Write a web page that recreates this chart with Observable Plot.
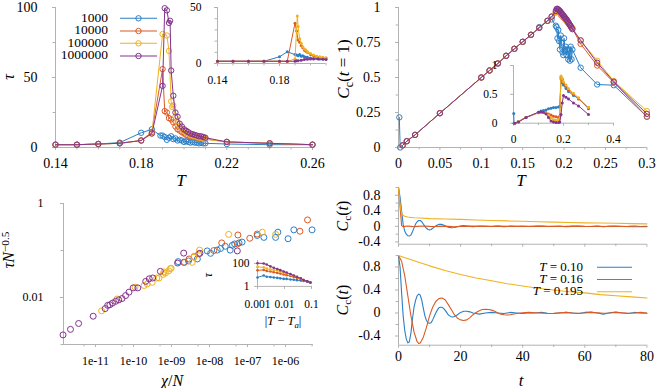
<!DOCTYPE html>
<html><head><meta charset="utf-8">
<script src="https://cdn.jsdelivr.net/npm/d3@7"></script>
<script src="https://cdn.jsdelivr.net/npm/@observablehq/plot@0.6"></script>
<style>
body{margin:0;background:#fff;}
#root{position:relative;width:656px;height:388px;overflow:hidden;background:#fff;font-family:"Liberation Serif","DejaVu Serif",serif;}
.lbl{position:absolute;font-family:"Liberation Serif","DejaVu Serif",serif;white-space:nowrap;line-height:1;color:#000;}
.leg{line-height:0.8;}
.c{transform:translate(-50%,-50%);}
.r{transform:translate(-50%,-50%) rotate(-90deg);}
.sb{font-size:70%;position:relative;top:0.3em;}
.sp{font-size:70%;position:relative;top:-0.45em;}
svg text{font-family:"Liberation Serif","DejaVu Serif",serif;}
</style></head><body><div id="root"></div>
<script>
// ---------------- data ----------------
const seriesNames = ["1000","10000","100000","1000000"];
const seriesColors = ["#2a7fc6","#dc5a24","#efb21f","#84338f"];

// Panel A: tau vs T (main)
const tauMain_1000 = [[0.14,2],[0.15,2],[0.16,2.5],[0.17,3.5],[0.18,10.5],[0.185,13],[0.189,8.5],[0.19,8.5],[0.191,7.5],[0.192,5.5],[0.193,7],[0.194,8],[0.195,6],[0.196,6.5],[0.197,5],[0.198,5.5],[0.199,5],[0.2,4],[0.201,4.5],[0.202,4],[0.203,3.5],[0.204,4],[0.205,3.5],[0.206,3.5],[0.207,3],[0.208,3.5],[0.209,3],[0.21,3],[0.22,2.5],[0.24,2],[0.26,2]];
const tauMain_10000 = [[0.14,2],[0.15,2],[0.16,2.5],[0.17,3],[0.18,5],[0.185,11],[0.19,56],[0.191,26],[0.192,25],[0.193,21],[0.194,20],[0.195,18],[0.196,15],[0.197,13],[0.198,12],[0.199,11],[0.2,10],[0.201,9],[0.202,8.5],[0.203,8],[0.204,8],[0.205,7.5],[0.206,7],[0.207,7],[0.208,6.5],[0.209,6.5],[0.21,6],[0.22,4],[0.24,3],[0.26,2]];
const tauMain_100000 = [[0.14,2],[0.15,2],[0.16,2.5],[0.17,3],[0.18,5],[0.185,10],[0.19,81],[0.192,80],[0.193,69],[0.194,33],[0.1945,29],[0.195,30],[0.196,22],[0.197,18],[0.198,15],[0.199,13],[0.2,11.5],[0.201,10.5],[0.202,10],[0.203,9],[0.204,8.5],[0.205,8],[0.206,7.5],[0.207,7],[0.208,7],[0.209,6.5],[0.21,6],[0.22,4],[0.24,3],[0.26,2]];
const tauMain_1000000 = [[0.14,2],[0.15,2],[0.16,2.5],[0.17,3],[0.18,5],[0.185,10],[0.19,44],[0.191,99.5],[0.192,98],[0.193,89],[0.1935,90.5],[0.194,55],[0.195,37],[0.196,25],[0.197,22],[0.198,17],[0.199,15],[0.2,13],[0.201,12],[0.202,11],[0.203,10],[0.204,9.5],[0.205,9],[0.206,8.5],[0.207,8],[0.208,8],[0.209,7.5],[0.21,7],[0.22,4],[0.24,3],[0.26,2]];

// Panel A inset
const tauInset_1000 = [[0.14,2],[0.15,2],[0.16,2],[0.17,2],[0.18,6],[0.185,10.4],[0.19,8],[0.191,7.5],[0.192,7],[0.193,8],[0.194,6.5],[0.195,7],[0.196,6],[0.197,5.5],[0.198,5.5],[0.2,5],[0.202,4.5],[0.204,4.5],[0.206,4],[0.208,4],[0.21,4]];
const tauInset_10000 = [[0.14,2],[0.15,2],[0.16,2],[0.17,2],[0.18,2],[0.185,2],[0.19,36],[0.191,29],[0.192,21],[0.193,19],[0.194,16],[0.195,14],[0.196,12],[0.197,11],[0.198,10],[0.2,8],[0.202,7],[0.204,6],[0.206,5.5],[0.208,5],[0.21,5]];
const tauInset_100000 = [[0.14,2],[0.15,2],[0.16,2],[0.17,2],[0.18,2],[0.185,2],[0.19,4],[0.1915,42.5],[0.192,33],[0.193,22],[0.194,18],[0.195,15],[0.196,13],[0.197,12],[0.198,10.5],[0.2,9],[0.202,7.5],[0.204,6.5],[0.206,6],[0.208,5.5],[0.21,5]];
const tauInset_1000000 = [[0.14,2],[0.15,2],[0.16,2],[0.17,2],[0.18,2],[0.185,2],[0.19,2],[0.191,2.5],[0.192,2.5],[0.194,3],[0.196,3.5],[0.198,3.8],[0.2,4],[0.202,4],[0.205,4],[0.208,3.7],[0.21,3.5]];

// Panel B: Cc(t=1) vs T (main)
const cc1_1000 = [[0.001,0.215],[0.002,0.0],[0.005,0.015],[0.01,0.045],[0.02,0.09],[0.05,0.245],[0.1,0.5],[0.11,0.55],[0.12,0.6],[0.13,0.655],[0.14,0.705],[0.15,0.755],[0.16,0.805],[0.17,0.86],[0.18,0.905],[0.185,0.915],[0.19,0.87],[0.191,0.86],[0.192,0.78],[0.193,0.84],[0.194,0.76],[0.195,0.70],[0.196,0.80],[0.197,0.75],[0.198,0.68],[0.199,0.66],[0.2,0.78],[0.201,0.70],[0.202,0.72],[0.203,0.66],[0.204,0.70],[0.205,0.63],[0.206,0.70],[0.207,0.62],[0.208,0.72],[0.209,0.63],[0.21,0.70],[0.22,0.57],[0.24,0.45],[0.26,0.445],[0.3,0.22]];
const cc1_10000 = [[0.005,0.015],[0.01,0.045],[0.02,0.09],[0.05,0.245],[0.1,0.5],[0.11,0.55],[0.12,0.6],[0.13,0.655],[0.14,0.705],[0.15,0.755],[0.16,0.805],[0.17,0.855],[0.18,0.905],[0.185,0.935],[0.19,0.965],[0.191,0.975],[0.192,0.975],[0.193,0.97],[0.194,0.965],[0.195,0.96],[0.196,0.95],[0.197,0.945],[0.198,0.94],[0.199,0.93],[0.2,0.925],[0.202,0.91],[0.204,0.895],[0.206,0.88],[0.208,0.865],[0.21,0.85],[0.22,0.74],[0.24,0.585],[0.26,0.465],[0.3,0.22]];
const cc1_100000 = [[0.005,0.015],[0.01,0.045],[0.02,0.09],[0.05,0.245],[0.1,0.5],[0.11,0.55],[0.12,0.6],[0.13,0.655],[0.14,0.705],[0.15,0.755],[0.16,0.805],[0.17,0.855],[0.18,0.905],[0.185,0.935],[0.19,0.97],[0.191,0.98],[0.192,0.98],[0.193,0.975],[0.194,0.97],[0.195,0.965],[0.196,0.955],[0.197,0.95],[0.198,0.945],[0.199,0.935],[0.2,0.93],[0.202,0.915],[0.204,0.9],[0.206,0.885],[0.208,0.87],[0.21,0.855],[0.22,0.765],[0.24,0.62],[0.26,0.475],[0.3,0.26]];
const cc1_1000000 = [[0.005,0.015],[0.01,0.045],[0.02,0.09],[0.05,0.245],[0.1,0.5],[0.11,0.55],[0.12,0.6],[0.13,0.655],[0.14,0.705],[0.15,0.755],[0.16,0.805],[0.17,0.855],[0.18,0.905],[0.185,0.935],[0.19,0.975],[0.191,0.99],[0.192,0.99],[0.193,0.985],[0.194,0.98],[0.195,0.975],[0.196,0.965],[0.197,0.96],[0.198,0.95],[0.199,0.945],[0.2,0.935],[0.201,0.93],[0.202,0.92],[0.203,0.915],[0.204,0.905],[0.205,0.895],[0.206,0.885],[0.207,0.875],[0.208,0.865],[0.209,0.855],[0.21,0.845],[0.22,0.765],[0.24,0.605],[0.26,0.47],[0.3,0.24]];

// Panel B inset
const ccIn_1000 = [[0.001,0.17],[0.002,0.0],[0.02,0.03],[0.05,0.1],[0.1,0.19],[0.11,0.21],[0.12,0.22],[0.13,0.23],[0.14,0.25],[0.15,0.26],[0.16,0.27],[0.17,0.27],[0.18,0.28],[0.185,0.29],[0.19,0.77],[0.195,0.7],[0.2,0.66],[0.21,0.6],[0.22,0.55],[0.24,0.48],[0.26,0.43],[0.3,0.25]];
const ccIn_10000 = [[0.005,0.0],[0.02,0.03],[0.05,0.1],[0.1,0.18],[0.11,0.19],[0.12,0.19],[0.13,0.18],[0.14,0.16],[0.15,0.14],[0.16,0.12],[0.17,0.11],[0.18,0.1],[0.185,0.12],[0.19,0.8],[0.195,0.76],[0.2,0.7],[0.21,0.63],[0.22,0.57],[0.24,0.5],[0.26,0.42],[0.3,0.27]];
const ccIn_100000 = [[0.005,0.0],[0.02,0.03],[0.05,0.1],[0.1,0.18],[0.11,0.19],[0.12,0.19],[0.13,0.17],[0.14,0.14],[0.15,0.1],[0.16,0.06],[0.17,0.05],[0.18,0.05],[0.185,0.08],[0.19,0.82],[0.195,0.78],[0.2,0.72],[0.21,0.66],[0.22,0.6],[0.24,0.52],[0.26,0.44],[0.3,0.27]];
const ccIn_1000000 = [[0.005,0.0],[0.02,0.02],[0.05,0.1],[0.1,0.19],[0.11,0.2],[0.12,0.19],[0.13,0.16],[0.14,0.1],[0.15,0.04],[0.16,0.02],[0.17,0.01],[0.18,0.01],[0.185,0.02],[0.19,0.15],[0.195,0.35],[0.2,0.48],[0.21,0.45],[0.22,0.42],[0.24,0.35],[0.26,0.3],[0.3,0.15]];

// Panel C: tau N^-0.5 vs chi/N (log-log)
const scal_1000 = [[1.5e-9,0.058],[2.1e-9,0.056],[2.8e-9,0.06],[4.8e-9,0.066],[8.7e-9,0.098],[1.07e-8,0.087],[1.6e-8,0.102],[1.95e-8,0.11],[2.6e-8,0.123],[3.5e-8,0.102],[4e-8,0.129],[4.6e-8,0.138],[6e-8,0.145],[7.2e-8,0.151],[1.8e-7,0.209],[2.7e-7,0.19],[5.5e-7,0.19],[6.3e-7,0.245],[1.17e-6,0.178],[1.66e-6,0.275],[5e-6,0.275]];
const scal_10000 = [[2.2e-9,0.056],[2.9e-9,0.066],[3.9e-9,0.074],[5.2e-9,0.085],[1.3e-8,0.1],[2.1e-8,0.145],[5.4e-8,0.138],[5.6e-8,0.214],[1.15e-7,0.182],[1.8e-7,0.224],[2.4e-6,0.257],[3.8e-6,0.447]];
const scal_100000 = [[1.45e-11,0.0052],[3.7e-11,0.0093],[1.1e-10,0.0166],[1.9e-10,0.018],[2.3e-10,0.0195],[3.1e-10,0.021],[4.1e-10,0.026],[4.7e-10,0.026],[6e-10,0.031],[6.3e-10,0.035],[6.9e-10,0.033],[8.5e-10,0.037],[9.3e-10,0.041],[9.8e-10,0.042],[3.5e-9,0.056],[3.9e-9,0.072],[5.5e-9,0.102],[3.2e-8,0.22],[2.45e-7,0.245],[5.5e-7,0.22]];
const scal_1000000 = [[1.4e-12,0.0016],[2.2e-12,0.0021],[3.6e-12,0.0028],[8.7e-12,0.004],[1.8e-11,0.0058],[2.1e-11,0.0068],[2.4e-11,0.007],[2.8e-11,0.0076],[3.4e-11,0.0083],[4.1e-11,0.0089],[5e-11,0.0095],[6.2e-11,0.011],[7.6e-11,0.013],[9.8e-11,0.016],[1.3e-10,0.016],[2.1e-10,0.022],[2.6e-10,0.025],[3.2e-10,0.026],[5.1e-10,0.036],[1.45e-9,0.054],[2.1e-9,0.088],[5.6e-9,0.087],[5.4e-8,0.098]];

// Panel C inset: tau vs |T - Ta|
const tauTa_1000 = [[0.001,6],[0.0017,9],[0.0022,7],[0.003,6.5],[0.004,6],[0.0054,5.5],[0.007,5],[0.0093,4.5],[0.012,4.5],[0.0166,4],[0.022,3.8],[0.029,3.5],[0.04,3.2],[0.051,3],[0.07,2.6],[0.091,2.2]];
const tauTa_10000 = [[0.001,25],[0.0017,27],[0.0022,22],[0.003,20],[0.004,17],[0.0054,15],[0.007,13],[0.0093,11],[0.012,9.5],[0.0166,8],[0.022,6.5],[0.029,5.5],[0.04,4.5],[0.051,3.5],[0.07,2.7],[0.091,2.2]];
const tauTa_100000 = [[0.001,50],[0.0017,45],[0.0022,35],[0.003,30],[0.004,27],[0.0054,24],[0.007,20],[0.0093,17],[0.012,14],[0.0166,11],[0.022,8.5],[0.029,6.5],[0.04,4.8],[0.051,3.6]];
const tauTa_1000000 = [[0.001,105],[0.0017,100],[0.0022,80],[0.003,55],[0.004,42],[0.0054,33],[0.007,26],[0.0093,20],[0.012,16],[0.0166,12],[0.022,9],[0.029,7],[0.04,5],[0.051,3.6],[0.07,2.8],[0.091,2.2]];

// Panel D: Cc(t) curves
const tempLabels = ["0.10","0.16","0.195"];
const tempColors = ["#2a7fc6","#dc5a24","#efb21f"];
const ccTop_010 = [[0,1],[0.5,0.75],[1,0.4],[1.5,0.05],[2,-0.12],[2.5,-0.2],[3,-0.24],[3.5,-0.25],[4,-0.22],[4.5,-0.14],[5,-0.04],[5.5,0.06],[6,0.12],[6.5,0.15],[7,0.15],[7.5,0.12],[8,0.06],[8.5,0],[9,-0.05],[9.5,-0.08],[10,-0.09],[10.5,-0.08],[11,-0.05],[11.5,-0.02],[12,0.01],[12.5,0.035],[13,0.05],[13.5,0.055],[14,0.05],[14.5,0.035],[15,0.015],[16,-0.02],[17,-0.035],[18,-0.03],[19,-0.01],[20,0.01],[21,0.02],[22,0.01],[23,0],[24,-0.01],[26,0.005],[28,0.01],[30,-0.005],[32,0.005],[34,-0.01],[36,0.005],[38,0],[40,0.01],[42,-0.005],[44,0],[46,0.01],[48,-0.005],[50,0],[52,0.005],[54,-0.01],[56,0],[58,0.01],[60,0],[62,-0.005],[64,0.005],[66,-0.01],[68,0.005],[70,0.01],[72,-0.005],[74,0],[76,0.01],[78,-0.005],[80,0]];
const ccTop_016 = [[0,1],[0.5,0.5],[1,0.02],[1.5,-0.01],[2,0],[3,0.01],[4,0],[5,-0.01],[6,0],[8,0.01],[10,0],[12,-0.005],[14,0.005],[16,0],[18,-0.01],[20,0],[24,0.005],[28,-0.005],[32,0.005],[36,0],[40,-0.005],[44,0.005],[48,0],[52,-0.005],[56,0.005],[60,-0.005],[64,0],[68,-0.005],[72,0],[76,-0.01],[80,-0.01]];
const ccTop_0195 = [[0,1],[0.5,0.55],[1,0.33],[1.5,0.28],[2,0.26],[3,0.24],[4,0.23],[5,0.22],[7,0.215],[10,0.2],[15,0.19],[20,0.18],[25,0.165],[30,0.15],[35,0.14],[40,0.13],[45,0.12],[50,0.11],[55,0.1],[60,0.09],[65,0.085],[70,0.08],[75,0.07],[80,0.065]];
const ccBot_010 = [[0,1],[0.5,0.8],[1,0.35],[1.5,-0.05],[2,-0.3],[2.5,-0.45],[3,-0.52],[3.5,-0.5],[4,-0.35],[4.5,-0.1],[5,0.1],[5.5,0.22],[6,0.3],[6.5,0.33],[7,0.31],[7.5,0.22],[8,0.08],[8.5,-0.05],[9,-0.13],[9.5,-0.17],[10,-0.18],[10.5,-0.17],[11,-0.12],[11.5,-0.06],[12,0],[12.5,0.05],[13,0.09],[13.5,0.1],[14,0.1],[14.5,0.08],[15,0.05],[15.5,0.01],[16,-0.03],[16.5,-0.05],[17,-0.065],[17.5,-0.07],[18,-0.06],[19,-0.03],[20,0.01],[21,0.03],[22,0.03],[23,0.02],[24,0],[25,-0.01],[26,-0.02],[28,0],[30,0.01],[32,0],[34,-0.01],[36,0.01],[38,0],[40,-0.01],[42,0.005],[44,0],[46,0.01],[48,-0.005],[50,-0.01],[52,0],[54,0.01],[56,0],[58,-0.01],[60,0.01],[62,0.015],[64,0],[66,-0.02],[68,0.005],[70,0.015],[72,0],[74,-0.01],[76,0.01],[78,0],[80,-0.005]];
const ccBot_016 = [[0,1],[1,0.9],[2,0.65],[3,0.3],[4,-0.05],[5,-0.33],[6,-0.5],[6.5,-0.53],[7,-0.52],[8,-0.42],[9,-0.25],[10,-0.05],[11,0.1],[12,0.2],[13,0.25],[14,0.26],[15,0.23],[16,0.15],[17,0.06],[18,-0.03],[19,-0.09],[20,-0.12],[21,-0.13],[22,-0.12],[23,-0.08],[24,-0.03],[25,0.01],[26,0.04],[27,0.06],[28,0.065],[29,0.06],[30,0.05],[31,0.03],[32,0],[33,-0.02],[34,-0.03],[35,-0.035],[36,-0.03],[38,-0.01],[40,0.005],[42,0.01],[44,0.005],[46,0],[48,-0.01],[50,-0.005],[52,0.005],[54,0.01],[56,0],[58,-0.005],[60,0],[62,0.01],[64,0.005],[66,-0.005],[68,0],[70,0.01],[72,0.005],[74,-0.005],[76,0],[78,0.01],[80,0]];
const ccBot_0195 = [[0,1],[5,0.91],[10,0.82],[15,0.74],[20,0.67],[25,0.61],[30,0.56],[35,0.51],[40,0.47],[45,0.43],[50,0.4],[55,0.37],[60,0.35],[65,0.32],[70,0.3],[75,0.28],[80,0.26]];

// tick values
const ticksA_x = [0.14,0.18,0.22,0.26], minorA_x = [0.15,0.16,0.17,0.19,0.2,0.21,0.23,0.24,0.25];
const ticksA_y = [0,50,100], minorA_y = [25,75];
const ticksAi_x = [0.14,0.18], minorAi_x = [0.15,0.16,0.17,0.19,0.2,0.21];
const ticksAi_y = [0,50], minorAi_y = [10,20,30,40];
const ticksB_x = [0,0.05,0.1,0.15,0.2,0.25,0.3], minorB_x = [0.025,0.075,0.125,0.175,0.225,0.275];
const ticksB_y = [0,0.25,0.5,0.75,1], minorB_y = [0.125,0.375,0.625,0.875];
const ticksBi_x = [0,0.2,0.4], minorBi_x = [0.1,0.3];
const ticksBi_y = [0,0.5,1];
const ticksC_x = [1e-11,1e-10,1e-9,1e-8,1e-7,1e-6], minorC_x = [5e-12,5e-11,5e-10,5e-9,5e-8,5e-7,5e-6];
const ticksC_y = [1,0.01], minorC_y = [0.1,0.001];
const ticksCi_x = [0.001,0.01,0.1], ticksCi_y = [1,100];
const ticksD_x = [0,20,40,60,80], minorD_x = [10,30,50,70];
const ticksD_y = [-0.4,0,0.4,0.8], minorD_y = [-0.2,0.2,0.6,1];

// ---------------- drawing ----------------
const root = document.getElementById("root");
const FONT = "Liberation Serif";
const AX = "#b2b2b2";

function panel({box, x, y, marks, ml = 60, mr = 14, mt = 12, mb = 40}) {
  const [x0, x1, y0, y1] = box;
  const p = Plot.plot({
    width: x1 - x0 + ml + mr, height: y1 - y0 + mt + mb,
    marginLeft: ml, marginRight: mr, marginTop: mt, marginBottom: mb,
    x: {...x, label: null}, y: {...y, label: null},
    style: {fontFamily: FONT, fontSize: "14px", background: "transparent", overflow: "visible", color: "black"},
    marks
  });
  p.style.position = "absolute";
  p.style.left = (x0 - ml) + "px";
  p.style.top = (y0 - mt) + "px";
  p.style.maxWidth = "none";
  root.appendChild(p);
}
function axes({xd, yd, xt, xm, yt, ym, fs = 14, xpad = 8, ypad = 15, xfmt, yfmt, xlabels = true, ts = 3}) {
  const m = [
    Plot.ruleX([xd], {stroke: AX}),
    Plot.ruleY([yd], {stroke: AX}),
    Plot.axisX({ticks: xt, anchor: "bottom", tickSize: ts, tickPadding: xpad, stroke: AX, fill: "black", fontSize: fs, fontFamily: FONT, label: null,
      tickFormat: xlabels ? (xfmt || (d => String(d))) : (() => "")}),
    Plot.axisY({ticks: yt, anchor: "left", tickSize: ts, tickPadding: ypad, stroke: AX, fill: "black", fontSize: fs, fontFamily: FONT, label: null,
      tickFormat: yfmt || (d => String(d))})
  ];
  if (xm) m.push(Plot.axisX({ticks: xm, anchor: "bottom", tickSize: ts * 0.8, stroke: AX, label: null, tickFormat: () => ""}));
  if (ym) m.push(Plot.axisY({ticks: ym, anchor: "left", tickSize: ts * 0.8, stroke: AX, label: null, tickFormat: () => ""}));
  return m;
}
function series(list, colors, {lw = 1, r = 0, open = true}) {
  const m = [];
  list.forEach((pts, i) => {
    const c = colors[i];
    m.push(Plot.line(pts, {x: d => d[0], y: d => d[1], stroke: c, strokeWidth: lw}));
    if (r > 0) m.push(Plot.dot(pts, {x: d => d[0], y: d => d[1], r, stroke: open ? c : "none", fill: open ? "none" : c, strokeWidth: 1}));
  });
  return m;
}
function points(list, colors, r) {
  return list.map((pts, i) => Plot.dot(pts, {x: d => d[0], y: d => d[1], r, stroke: colors[i], fill: "none", strokeWidth: 1}));
}
function label(html, cx, cy, size, rot) {
  const d = document.createElement("div");
  d.className = "lbl " + (rot ? "r" : "c");
  d.style.left = cx + "px"; d.style.top = cy + "px"; d.style.fontSize = size + "px";
  d.innerHTML = html;
  root.appendChild(d);
}

// Panel A main
panel({box: [55, 312, 7, 147], x: {domain: [0.14, 0.26]}, y: {domain: [0, 100]},
  marks: [...axes({xd: 0.14, yd: 0, xt: ticksA_x, xm: minorA_x, yt: ticksA_y, ym: minorA_y}),
    ...series([tauMain_1000, tauMain_10000, tauMain_100000, tauMain_1000000], seriesColors, {r: 2.7})]});
// Panel A inset
panel({box: [217, 325.5, 7, 63], x: {domain: [0.14, 0.21]}, y: {domain: [0, 50]},
  marks: [...axes({xd: 0.14, yd: 0, xt: ticksAi_x, xm: minorAi_x, yt: ticksAi_y, ym: minorAi_y, fs: 11.5, xpad: 9, ypad: 13}),
    ...series([tauInset_1000, tauInset_10000, tauInset_100000, tauInset_1000000], seriesColors, {r: 1.5, open: false})]});

// Panel B main
panel({box: [398.3, 646.7, 7, 147], x: {domain: [0, 0.3]}, y: {domain: [0, 1]},
  marks: [...axes({xd: 0, yd: 0, xt: ticksB_x, xm: minorB_x, yt: ticksB_y, ym: minorB_y}),
    ...series([cc1_1000, cc1_10000, cc1_100000, cc1_1000000], seriesColors, {r: 2.7})]});
// Panel B inset
panel({box: [512.5, 612.5, 65, 122.7], x: {domain: [0, 0.4]}, y: {domain: [0, 1]},
  marks: [...axes({xd: 0, yd: 0, xt: ticksBi_x, xm: minorBi_x, yt: ticksBi_y, fs: 11.5, xpad: 9, ypad: 13}),
    ...series([ccIn_1000, ccIn_10000, ccIn_100000, ccIn_1000000], seriesColors, {r: 1.5, open: false})]});

// Panel C main
const expFmt = d => { const e = Math.round(Math.log10(d)); return "1e-" + String(-e).padStart(2, "0"); };
panel({box: [63, 313, 203.3, 344.3], x: {type: "log", domain: [1.44e-12, 5.46e-6]}, y: {type: "log", domain: [1e-3, 1]},
  marks: [...axes({xd: 1.44e-12, yd: 1e-3, xt: ticksC_x, xm: minorC_x, yt: ticksC_y, ym: minorC_y, fs: 12, xpad: 9, ypad: 17,
      xfmt: expFmt, yfmt: d => (d === 1 ? "1" : "0.01")}),
    ...points([scal_1000, scal_10000, scal_100000, scal_1000000], seriesColors, 3)]});
// Panel C inset
panel({box: [257, 311, 259.8, 285.7], x: {type: "log", domain: [0.001, 0.1]}, y: {type: "log", domain: [1, 180]},
  marks: [...axes({xd: 0.001, yd: 1, xt: ticksCi_x, yt: ticksCi_y, fs: 11.5, xpad: 10, ypad: 5,
      xfmt: d => String(d), yfmt: d => String(d)}),
    ...series([tauTa_1000, tauTa_10000, tauTa_100000, tauTa_1000000], seriesColors, {r: 1.3, open: false})]});

// Panel D top
panel({box: [398.3, 646.7, 187.25, 244], x: {domain: [0, 80]}, y: {domain: [-0.46, 1]},
  marks: [...axes({xd: 0, yd: -0.46, xt: ticksD_x, xm: minorD_x, yt: ticksD_y, ym: minorD_y, xlabels: false}),
    ...series([ccTop_010, ccTop_016, ccTop_0195], tempColors, {lw: 1.1})]});
// Panel D bottom
panel({box: [398.3, 646.7, 254.5, 344.2], x: {domain: [0, 80]}, y: {domain: [-0.56, 1]},
  marks: [...axes({xd: 0, yd: -0.56, xt: ticksD_x, xm: minorD_x, yt: ticksD_y, ym: minorD_y, xpad: 3}),
    ...series([ccBot_010, ccBot_016, ccBot_0195], tempColors, {lw: 1.1})]});

// axis titles
label("<i>τ</i>", 9, 77, 16, true);
label("<i>T</i>", 181, 180, 17, false);
label("<i>C</i><span class='sb'>c</span>(<i>t</i> = 1)", 343, 69, 17, true);
label("<i>T</i>", 521, 180, 17, false);
label("<i>τN</i><span class='sp'>−0.5</span>", 9, 250, 16, true);
label("<i>χ</i>/<i>N</i>", 172, 381, 16, false);
label("<i>τ</i>", 208, 275, 12, true);
label("|<i>T</i> − <i>T</i><span class='sb'><i>a</i></span>|", 283, 321, 12.5, false);
label("<i>C</i><span class='sb'>c</span>(<i>t</i>)", 343, 216, 16, true);
label("<i>C</i><span class='sb'>c</span>(<i>t</i>)", 343, 300, 16, true);
label("<i>t</i>", 521, 380, 17, false);

// legends
function legend(names, colors, rightX, ys, lx0, lx1, marker, size) {
  const ns = "http://www.w3.org/2000/svg";
  const svg = document.createElementNS(ns, "svg");
  svg.setAttribute("width", 656); svg.setAttribute("height", 388);
  svg.style.position = "absolute"; svg.style.left = "0px"; svg.style.top = "0px";
  names.forEach((n, i) => {
    const t = document.createElement("div");
    t.className = "lbl leg";
    t.style.right = (656 - rightX) + "px"; t.style.top = (ys[i] - size * 0.42) + "px";
    t.style.fontSize = size + "px";
    t.innerHTML = n;
    root.appendChild(t);
    const l = document.createElementNS(ns, "line");
    l.setAttribute("x1", lx0); l.setAttribute("x2", lx1); l.setAttribute("y1", ys[i]); l.setAttribute("y2", ys[i]);
    l.setAttribute("stroke", colors[i]); l.setAttribute("stroke-width", 1.1);
    svg.appendChild(l);
    if (marker) {
      const c = document.createElementNS(ns, "circle");
      c.setAttribute("cx", (lx0 + lx1) / 2); c.setAttribute("cy", ys[i]); c.setAttribute("r", 2.7);
      c.setAttribute("fill", "none"); c.setAttribute("stroke", colors[i]);
      svg.appendChild(c);
    }
  });
  root.appendChild(svg);
}
legend(seriesNames, seriesColors, 108, [18.3, 31, 43.3, 56], 120, 157, true, 13.5);
legend(tempLabels.map(t => "<i>T</i> = " + t), tempColors, 583, [267.3, 279.5, 291.7], 597, 632, false, 13);
</script></body></html>
